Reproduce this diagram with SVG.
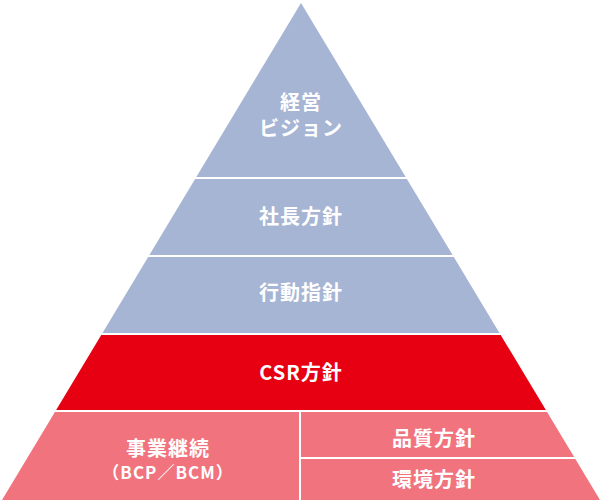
<svg xmlns="http://www.w3.org/2000/svg" width="602" height="503" viewBox="0 0 602 503">
<style>
.blue{fill:#a7b5d4}
.red{fill:#e60012}
.pink{fill:#f0737d}
.t{fill:#ffffff;font-family:"Noto Sans CJK JP","Noto Sans",sans-serif;font-weight:bold;font-size:20px;text-anchor:middle;letter-spacing:1px}
</style>
<defs>
<clipPath id="tri"><polygon points="301,3 600,500 2,500"/></clipPath>
</defs>
<g clip-path="url(#tri)">
<g id="vision"><rect class="blue" x="0" y="0" width="602" height="177"/>
<text class="t" x="301" y="110">経営</text><text class="t" x="301" y="136">ビジョン</text></g>
<g id="president"><rect class="blue" x="0" y="179" width="602" height="76"/>
<text class="t" x="301" y="224">社長方針</text></g>
<g id="conduct"><rect class="blue" x="0" y="257" width="602" height="76"/>
<text class="t" x="301" y="300">行動指針</text></g>
<g id="csr"><rect class="red" x="0" y="335" width="602" height="75"/>
<text class="t" x="301" y="380">CSR方針</text></g>
<g id="bcp"><rect class="pink" x="0" y="412" width="299" height="91"/>
<text class="t" x="168" y="456">事業継続</text><text class="t" x="168" y="479" style="font-size:17px;letter-spacing:1px">（BCP／BCM）</text></g>
<g id="quality"><rect class="pink" x="301" y="412" width="301" height="45"/>
<text class="t" x="434" y="446">品質方針</text></g>
<g id="environment"><rect class="pink" x="301" y="459" width="301" height="44"/>
<text class="t" x="434" y="487">環境方針</text></g>
</g>
<g id="connectors"></g>
</svg>
